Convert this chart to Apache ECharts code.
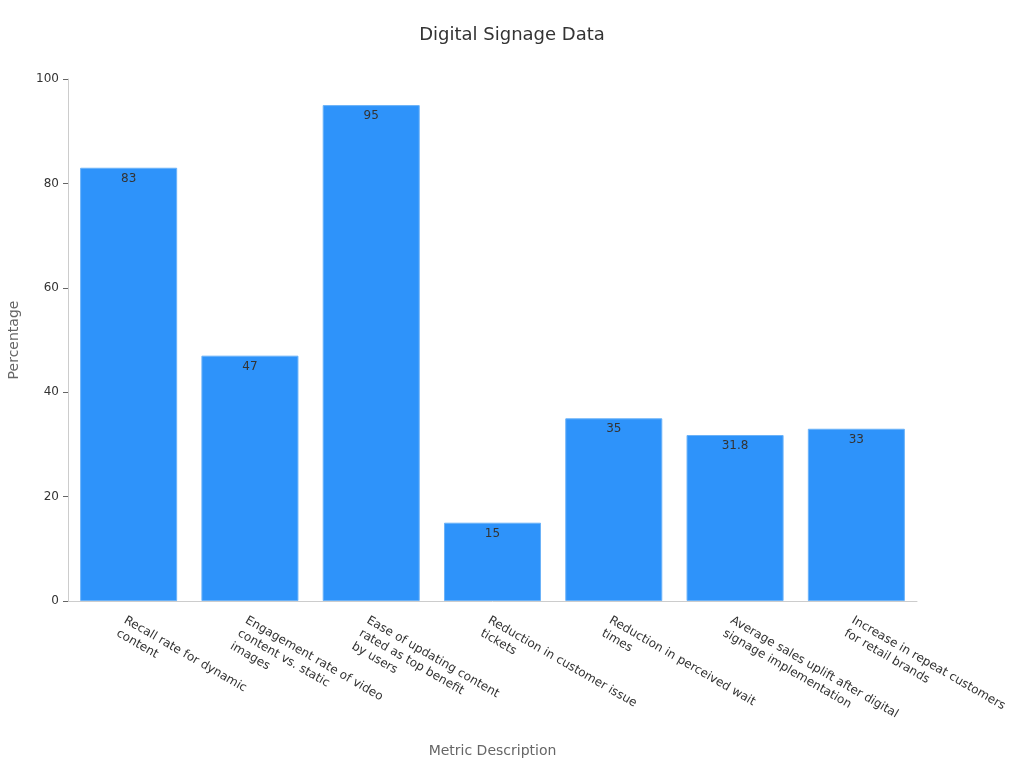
<!DOCTYPE html>
<html>
<head>
<meta charset="utf-8">
<script src="https://cdn.jsdelivr.net/npm/echarts@6/dist/echarts.min.js"></script>
<style>html,body{margin:0;padding:0;background:#fff}#c{width:1024px;height:768px}</style>
</head>
<body>
<div id="c"></div>
<script>
const categories = [
  "Recall rate for dynamic\ncontent",
  "Engagement rate of video\ncontent vs. static\nimages",
  "Ease of updating content\nrated as top benefit\nby users",
  "Reduction in customer issue\ntickets",
  "Reduction in perceived wait\ntimes",
  "Average sales uplift after digital\nsignage implementation",
  "Increase in repeat customers\nfor retail brands"
];
const values = [83, 47, 95, 15, 35, 31.8, 33];
const yTicks = [0, 20, 40, 60, 80, 100];

const chart = echarts.init(document.getElementById('c'));
chart.setOption({
  backgroundColor: '#fff',
  textStyle: { fontFamily: 'DejaVu Sans' },
  title: {
    text: 'Digital Signage Data', left: 'center', top: 21,
    textStyle: { fontSize: 18, fontWeight: 'normal', color: '#333', fontFamily: 'DejaVu Sans' }
  },
  grid: { left: 68, right: 107, top: 79, bottom: 167, containLabel: false, outerBoundsMode: 'none' },
  xAxis: {
    type: 'category', data: categories,
    name: 'Metric Description', nameLocation: 'middle', nameGap: 143,
    nameTextStyle: { fontSize: 14, color: '#666' },
    axisLine: { lineStyle: { color: '#ccc' } },
    axisTick: { alignWithLabel: true, length: 5, lineStyle: { color: '#666' } },
    axisLabel: { rotate: -30, fontSize: 12, color: '#333', interval: 0, margin: 12, lineHeight: 15,
                 align: 'left', verticalAlign: 'top', hideOverlap: false }
  },
  yAxis: {
    type: 'value', min: 0, max: 100, interval: 20,
    name: 'Percentage', nameLocation: 'middle', nameGap: 47,
    nameTextStyle: { fontSize: 14, color: '#666' },
    axisLine: { show: true, lineStyle: { color: '#ccc' } },
    axisTick: { show: true, length: 5, lineStyle: { color: '#666' } },
    splitLine: { show: false },
    axisLabel: { fontSize: 12, color: '#333', margin: 9, formatter: v => yTicks.includes(v) ? String(v) : '' }
  },
  series: [{
    type: 'bar', data: values, barCategoryGap: '20%',
    itemStyle: { color: '#2E93FA', borderColor: '#6BB2F8', borderWidth: 1 },
    label: { show: true, position: 'insideTop', color: '#333', fontSize: 12, distance: 5 }
  }]
});
</script>
</body>
</html>
